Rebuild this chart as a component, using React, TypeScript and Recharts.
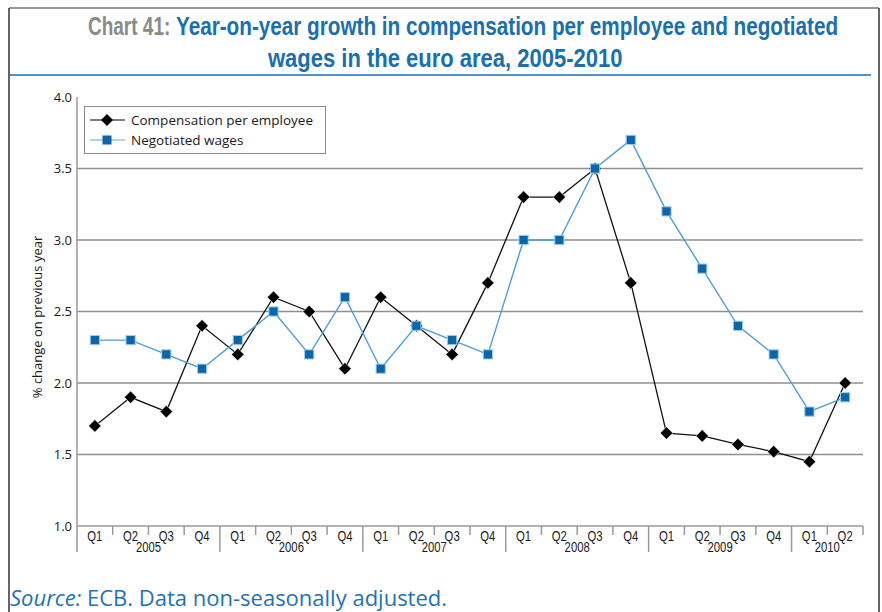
import React from 'react';
import { LineChart, Line, XAxis, YAxis, CartesianGrid } from 'recharts';

const quarters = [
  'Q1', 'Q2', 'Q3', 'Q4',
  'Q1', 'Q2', 'Q3', 'Q4',
  'Q1', 'Q2', 'Q3', 'Q4',
  'Q1', 'Q2', 'Q3', 'Q4',
  'Q1', 'Q2', 'Q3', 'Q4',
  'Q1', 'Q2',
];
const years = ['2005', '2006', '2007', '2008', '2009', '2010'];
const quartersPerYear = [4, 4, 4, 4, 4, 2];

const compensation = [
  1.7, 1.9, 1.8, 2.4,
  2.2, 2.6, 2.5, 2.1,
  2.6, 2.4, 2.2, 2.7,
  3.3, 3.3, 3.5, 2.7,
  1.65, 1.63, 1.57, 1.52,
  1.45, 2.0,
];
const negotiated = [
  2.3, 2.3, 2.2, 2.1,
  2.3, 2.5, 2.2, 2.6,
  2.1, 2.4, 2.3, 2.2,
  3.0, 3.0, 3.5, 3.7,
  3.2, 2.8, 2.4, 2.2,
  1.8, 1.9,
];
const yTicks = [1.0, 1.5, 2.0, 2.5, 3.0, 3.5, 4.0];
const gridValues = [1.5, 2.0, 2.5, 3.0, 3.5];
const seriesNames = ['Compensation per employee', 'Negotiated wages'];

const data = quarters.map((q, i) => ({
  idx: i,
  q,
  comp: compensation[i],
  neg: negotiated[i],
}));

// year centres and boundaries derived from quartersPerYear
const yearCenters: { [k: string]: string } = {};
const yearBounds: { [k: string]: boolean } = {};
{
  let start = 0;
  quartersPerYear.forEach((n, k) => {
    yearCenters[String(start + (n - 1) / 2)] = years[k];
    yearBounds[String(start - 0.5)] = true;
    start += n;
  });
}
const xTicks: number[] = [];
for (let k = 0; k <= quarters.length * 2; k++) xTicks.push(k / 2 - 0.5);

const BLUE_LINE = '#4d9ed3';
const BLUE_MARK = '#0a66a8';
const TITLE_BLUE = '#1a6fb0';
const AXIS_GRAY = '#9a9a9a';
const CONDENSED = "'Liberation Sans', Arial, sans-serif";
const SANS = "'Open Sans', 'DejaVu Sans', sans-serif";

const XTick = (props: any) => {
  const { x, y, payload } = props;
  const v: number = payload.value;
  if (Number.isInteger(v)) {
    return (
      <text
        transform={`translate(${x},${y + 15}) scale(0.78,1)`}
        textAnchor="middle"
        fontFamily={CONDENSED}
        fontSize={14.5}
        fill="#1a1a1a"
      >
        {quarters[v]}
      </text>
    );
  }
  const key = String(v);
  const long = !!yearBounds[key];
  return (
    <g>
      <line x1={x} y1={y} x2={x} y2={y + (long ? 26 : 9)} stroke={AXIS_GRAY} strokeWidth={1.5} />
      {yearCenters[key] ? (
        <text
          transform={`translate(${x},${y + 26}) scale(0.78,1)`}
          textAnchor="middle"
          fontFamily={CONDENSED}
          fontSize={14.5}
          fill="#1a1a1a"
        >
          {yearCenters[key]}
        </text>
      ) : null}
    </g>
  );
};

const Diamond = (props: any) => {
  const { cx, cy, index } = props;
  if (cx == null || cy == null) return <g key={`d${index}`} />;
  const r = 6.3;
  return (
    <path
      key={`d${index}`}
      d={`M${cx},${cy - r} L${cx + r},${cy} L${cx},${cy + r} L${cx - r},${cy} Z`}
      fill="#000"
      stroke="#fff"
      strokeWidth={0.6}
    />
  );
};

const Square = (props: any) => {
  const { cx, cy, index } = props;
  if (cx == null || cy == null) return <g key={`s${index}`} />;
  const h = 4.6;
  return (
    <rect
      key={`s${index}`}
      x={cx - h}
      y={cy - h}
      width={h * 2}
      height={h * 2}
      fill={BLUE_MARK}
      stroke="#9ccbeb"
      strokeWidth={1}
    />
  );
};

export default function App() {
  return (
    <div style={{ position: 'absolute', left: 0, top: 0, width: 882, height: 612, background: '#fff', overflow: 'hidden' }}>
      <LineChart
        width={882}
        height={612}
        data={data}
        margin={{ top: 97, right: 19, bottom: 46, left: 17 }}
      >
        <CartesianGrid
          horizontal={true}
          vertical={false}
          horizontalValues={gridValues}
          stroke="#8f8f8f"
          strokeWidth={1.4}
        />
        <XAxis
          dataKey="idx"
          type="number"
          domain={[-0.5, quarters.length - 0.5]}
          ticks={xTicks}
          interval={0}
          tickLine={false}
          tickSize={0}
          tickMargin={0}
          height={40}
          axisLine={{ stroke: AXIS_GRAY, strokeWidth: 1.5 }}
          tick={<XTick />}
          allowDataOverflow
        />
        <YAxis
          type="number"
          domain={[1, 4]}
          ticks={yTicks}
          interval={0}
          width={60}
          tickLine={false}
          tickSize={0}
          tickMargin={5}
          axisLine={{ stroke: AXIS_GRAY, strokeWidth: 1.5 }}
          tickFormatter={(v: number) => v.toFixed(1)}
          tick={{ fontFamily: SANS, fontSize: 13, fill: '#1a1a1a' }}
        />
        <Line
          type="linear"
          dataKey="comp"
          name={seriesNames[0]}
          stroke="#111"
          strokeWidth={1.3}
          dot={<Diamond />}
          isAnimationActive={false}
        />
        <Line
          type="linear"
          dataKey="neg"
          name={seriesNames[1]}
          stroke={BLUE_LINE}
          strokeWidth={1.4}
          dot={<Square />}
          isAnimationActive={false}
        />
      </LineChart>
      <svg
        width={882}
        height={612}
        style={{ position: 'absolute', left: 0, top: 0, pointerEvents: 'none' }}
      >
        {/* frame */}
        <line x1={9} y1={8} x2={9} y2={612} stroke="#333" strokeWidth={1.5} />
        <line x1={9} y1={8} x2={879} y2={8} stroke="#333" strokeWidth={1.2} />
        <line x1={879} y1={8} x2={879} y2={612} stroke="#333" strokeWidth={1.5} />
        {/* title */}
        <text transform="translate(88,35) scale(0.76,1)" fontFamily={CONDENSED} fontWeight="bold" fontSize={25} fill="#8a8a8a">
          Chart 41:
        </text>
        <text transform="translate(176,35) scale(0.828,1)" fontFamily={CONDENSED} fontWeight="bold" fontSize={25} fill={TITLE_BLUE}>
          Year-on-year growth in compensation per employee and negotiated
        </text>
        <text transform="translate(268,67) scale(0.88,1)" fontFamily={CONDENSED} fontWeight="bold" fontSize={25} fill={TITLE_BLUE}>
          wages in the euro area, 2005-2010
        </text>
        <line x1={10} y1={75} x2={871} y2={75} stroke={TITLE_BLUE} strokeWidth={1.5} />
        {/* y label */}
        <text
          transform="translate(42,317) rotate(-90)"
          textAnchor="middle"
          fontFamily={SANS}
          fontSize={13}
          fill="#1a1a1a"
        >
          % change on previous year
        </text>
        {/* legend */}
        <rect x={84.5} y={106.5} width={241} height={47} fill="#fff" stroke="#8a8a8a" strokeWidth={1} />
        <line x1={90} y1={120} x2={125} y2={120} stroke="#555" strokeWidth={1.3} />
        <path d="M107,114 L113,120 L107,126 L101,120 Z" fill="#000" />
        <text x={131} y={125} fontFamily={SANS} fontSize={13.5} fill="#1a1a1a">{seriesNames[0]}</text>
        <line x1={90} y1={140} x2={125} y2={140} stroke="#8cc4ea" strokeWidth={1.3} />
        <rect x={102.5} y={135.5} width={9} height={9} fill={BLUE_MARK} />
        <text x={131} y={145} fontFamily={SANS} fontSize={13.5} fill="#1a1a1a">{seriesNames[1]}</text>
        {/* source */}
        <text x={10} y={606} fontFamily={SANS} fontSize={22} fill="#1f73b5">
          <tspan fontStyle="italic">Source:</tspan>
          <tspan> ECB. Data non-seasonally adjusted.</tspan>
        </text>
      </svg>
    </div>
  );
}
